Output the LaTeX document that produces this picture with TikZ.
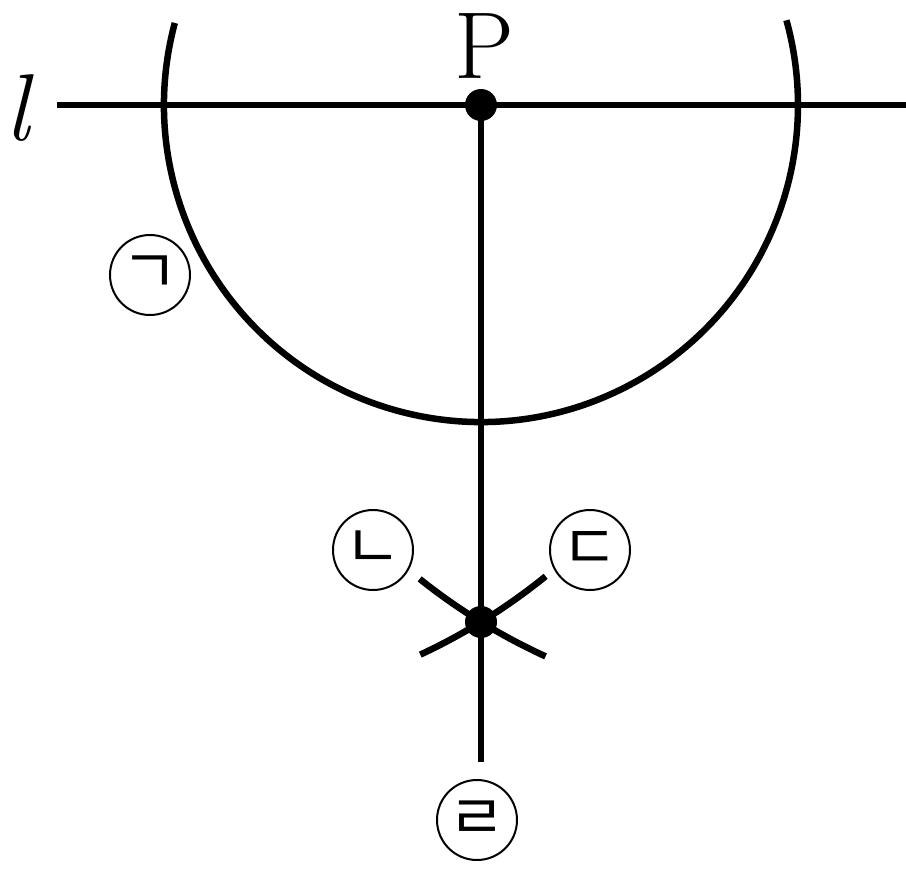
\documentclass[tikz,border=0pt]{standalone}
\usepackage{fontspec}
\newfontfamily\kofont{Noto Sans CJK KR}
\begin{document}
\begin{tikzpicture}[x=1pt,y=-1pt,
  thick line/.style={line width=6.5pt},
  dotmark/.style={circle,fill=black,inner sep=0pt,minimum size=32pt},
  circlabel/.style={circle,draw,line width=2pt,inner sep=0pt,minimum size=80pt,font=\kofont\fontsize{62}{62}\selectfont},
  biglabel/.style={font=\fontsize{95}{100}\selectfont,inner sep=0pt,anchor=base}]
\useasboundingbox (0,0) rectangle (906,873);
\coordinate (P) at (481,105);
\coordinate (A) at (164,105);
\coordinate (B) at (798,105);
\coordinate (L0) at (57,105);
\coordinate (L1) at (906,105);
\coordinate (Q) at (481,622);
\coordinate (E) at (481,762);
% line l
\draw[thick line] (L0) -- (L1);
% big arc centred at P
\draw[thick line] ([shift={(195:317)}]P) arc[start angle=195,end angle=-15.5,radius=317];
% perpendicular
\draw[thick line] (P) -- (E);
% crossing arcs
\draw[thick line] ([shift={(128.6:606.45)}]B) arc[start angle=128.6,end angle=114.6,radius=606.45];
\draw[thick line] ([shift={(65.0:606.45)}]A) arc[start angle=65.0,end angle=51.0,radius=606.45];
% dots
\node[dotmark] (Pdot) at (P) {};
\node[dotmark] (Qdot) at (Q) {};
% labels
\node[biglabel] (Plab) at (484,78) {P};
\node[biglabel] (llab) at (17,140) {\itshape l};
\node[circlabel] (c1) at (150,275) {ㄱ};
\node[circlabel] (c2) at (373,550) {ㄴ};
\node[circlabel] (c3) at (590,550) {ㄷ};
\node[circlabel] (c4) at (477,820) {ㄹ};
\end{tikzpicture}
\end{document}
